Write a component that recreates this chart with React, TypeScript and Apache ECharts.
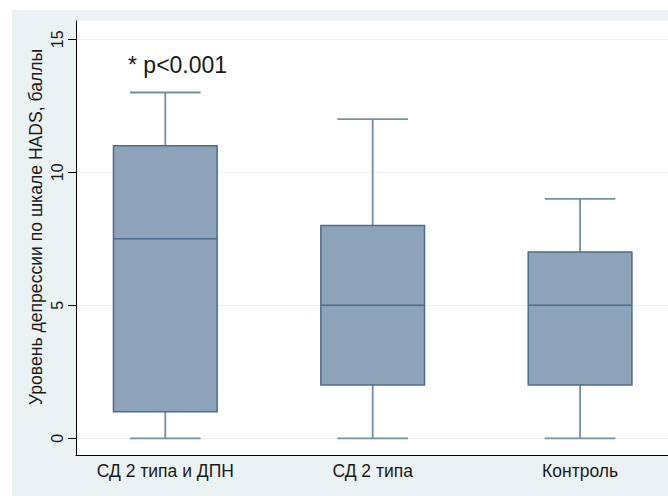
import React, { useEffect, useRef } from "react";
import * as echarts from "echarts";

const categories = ["СД 2 типа и ДПН", "СД 2 типа", "Контроль"];
const whiskerLow = [0, 0, 0];
const q1 = [1, 2, 2];
const median = [7.5, 5, 5];
const q3 = [11, 8, 7];
const whiskerHigh = [13, 12, 9];
const yTicks = [0, 5, 10, 15];
const yTitle = "Уровень депрессии по шкале HADS, баллы";
const note = "* p<0.001";

const FONT = "'Liberation Sans', Arial, Helvetica, sans-serif";
const BOX_W = 0.5;
const CAP_W = 0.34;

export default function App() {
  const ref = useRef<HTMLDivElement>(null);
  useEffect(() => {
    if (!ref.current) return;
    const chart = echarts.init(ref.current, null, { renderer: "svg" });
    const data = categories.map((c, i) => [i + 1, whiskerLow[i], q1[i], median[i], q3[i], whiskerHigh[i]]);
    chart.setOption({
      animation: false,
      backgroundColor: "#ffffff",
      textStyle: { fontFamily: FONT },
      graphic: [
        { type: "rect", z: -10, shape: { x: 12, y: 10, width: 700, height: 500 }, style: { fill: "rgb(234,242,243)" }, silent: true },
        {
          type: "text", z: 10, x: 36, y: 227, rotation: Math.PI / 2,
          style: { text: yTitle, fontSize: 17.6, fontFamily: FONT, fill: "#1a1a1a", align: "center", verticalAlign: "middle" },
        },
        {
          type: "text", z: 10, x: 128, y: 65,
          style: { text: note, fontSize: 23, fontFamily: FONT, fill: "#1a1a1a", align: "left", verticalAlign: "middle" },
        },
      ],
      grid: { left: 76, right: 0, top: 21, bottom: 41, show: true, backgroundColor: "#ffffff", borderWidth: 0 },
      xAxis: {
        type: "value",
        min: 0.5694,
        max: 3.424,
        axisLine: { show: true, onZero: false, lineStyle: { color: "#000", width: 1 } },
        axisTick: { show: false },
        splitLine: { show: false },
        axisLabel: {
          customValues: [1, 2, 3],
          formatter: (v: number) => categories[Math.round(v) - 1] ?? "",
          fontSize: 17.5,
          color: "#1a1a1a",
          margin: 7,
          fontFamily: FONT,
        },
      },
      yAxis: {
        type: "value",
        min: -0.628,
        max: 15.688,
        axisLine: { show: true, onZero: false, lineStyle: { color: "#000", width: 1 } },
        axisTick: { show: true, customValues: yTicks, length: 8, lineStyle: { color: "#000" } },
        splitLine: { show: true, lineStyle: { color: "rgb(234,242,243)", width: 1 } },
        axisLabel: {
          customValues: yTicks,
          rotate: 90,
          fontSize: 16,
          color: "#1a1a1a",
          margin: 11,
          fontFamily: FONT,
        },
      },
      series: [
        {
          type: "custom",
          data,
          renderItem: (params: any, api: any) => {
            const x = api.value(0);
            const [cx, yMin] = api.coord([x, api.value(1)]);
            const yQ1 = api.coord([x, api.value(2)])[1];
            const yMed = api.coord([x, api.value(3)])[1];
            const yQ3 = api.coord([x, api.value(4)])[1];
            const yMax = api.coord([x, api.value(5)])[1];
            const half = api.size([BOX_W, 0])[0] / 2;
            const cap = api.size([CAP_W, 0])[0] / 2;
            const wStyle = { stroke: "#7190ab", lineWidth: 1.8 };
            return {
              type: "group",
              children: [
                { type: "line", shape: { x1: cx, y1: yMin, x2: cx, y2: yQ1 }, style: wStyle },
                { type: "line", shape: { x1: cx, y1: yQ3, x2: cx, y2: yMax }, style: wStyle },
                { type: "line", shape: { x1: cx - cap, y1: yMin, x2: cx + cap, y2: yMin }, style: wStyle },
                { type: "line", shape: { x1: cx - cap, y1: yMax, x2: cx + cap, y2: yMax }, style: wStyle },
                {
                  type: "rect",
                  shape: { x: cx - half, y: yQ3, width: half * 2, height: yQ1 - yQ3 },
                  style: { fill: "#8ca3b9", stroke: "#4d6d8c", lineWidth: 1.5 },
                },
                { type: "line", shape: { x1: cx - half, y1: yMed, x2: cx + half, y2: yMed }, style: { stroke: "#4d6d8c", lineWidth: 1.5 } },
              ],
            };
          },
        },
      ],
    });
    return () => chart.dispose();
  }, []);
  return <div ref={ref} style={{ position: "fixed", left: 0, top: 0, width: 668, height: 496 }} />;
}
